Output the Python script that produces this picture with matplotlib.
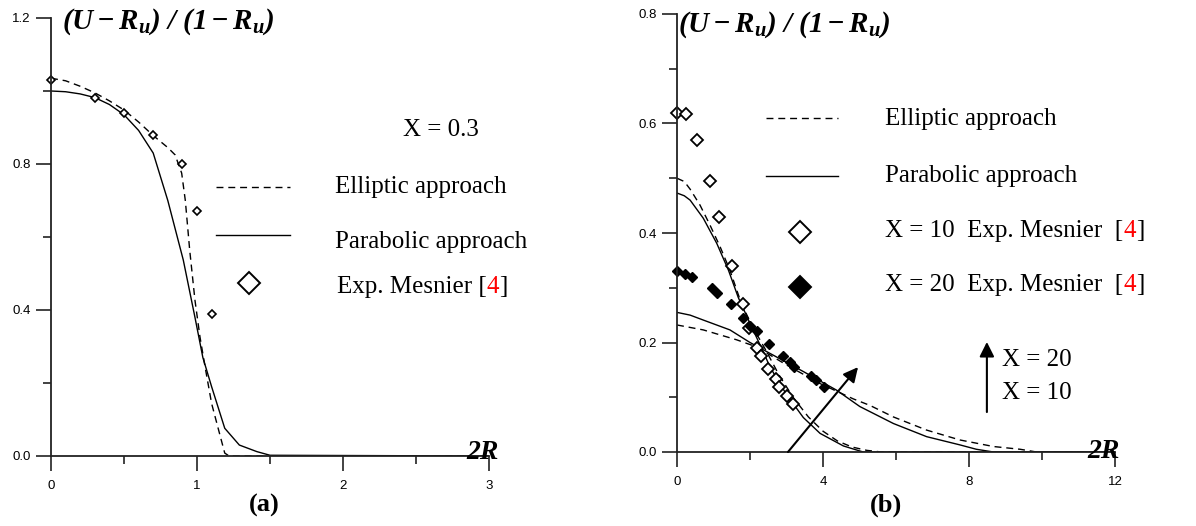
import matplotlib.pyplot as plt
from matplotlib.ticker import MultipleLocator, FormatStrFormatter

# ---- data ----
# (a) X = 0.3
r_a_exp = [0, 0.3, 0.5, 0.7, 0.9, 1.0, 1.1]
u_a_exp = [1.03, 0.98, 0.94, 0.88, 0.80, 0.67, 0.39]

r_a_ell = [0, 0.1, 0.2, 0.3, 0.4, 0.5, 0.6, 0.7, 0.8, 0.85, 0.895, 0.92, 0.95,
           0.986, 1.02, 1.055, 1.10, 1.16, 1.19, 1.22, 3.0]
u_a_ell = [1.035, 1.028, 1.013, 0.995, 0.973, 0.948, 0.915, 0.878, 0.845, 0.825,
           0.775, 0.70, 0.564, 0.427, 0.327, 0.245, 0.144, 0.053, 0.008, 0.0, 0.0]

r_a_par = [0, 0.1, 0.2, 0.3, 0.4, 0.5, 0.6, 0.7, 0.8, 0.906, 0.986, 1.04, 1.10,
           1.19, 1.29, 1.41, 1.5, 3.0]
u_a_par = [1.0, 0.998, 0.992, 0.982, 0.963, 0.935, 0.892, 0.83, 0.70, 0.537,
           0.38, 0.27, 0.19, 0.076, 0.03, 0.012, 0.002, 0.0]

# (b) X = 10 and X = 20
r_10_exp = [0, 0.25, 0.56, 0.90, 1.16, 1.52, 1.80, 1.98, 2.20, 2.31, 2.50, 2.71,
            2.80, 3.0, 3.19]
u_10_exp = [0.62, 0.618, 0.57, 0.495, 0.43, 0.34, 0.27, 0.226, 0.19, 0.175, 0.151,
            0.134, 0.119, 0.102, 0.088]

r_20_exp = [0, 0.22, 0.41, 0.96, 1.10, 1.47, 1.82, 2.0, 2.2, 2.52, 2.9, 3.1, 3.2,
            3.67, 3.81, 4.02]
u_20_exp = [0.33, 0.325, 0.32, 0.30, 0.29, 0.27, 0.245, 0.231, 0.221, 0.197, 0.175,
            0.164, 0.156, 0.138, 0.132, 0.119]

r_10_ell = [0, 0.2, 0.36, 0.63, 0.9, 1.18, 1.45, 1.77, 2.1, 2.4, 2.8, 3.2, 3.6,
            4.0, 4.4, 4.8, 5.2, 5.6, 12]
u_10_ell = [0.50, 0.494, 0.48, 0.451, 0.415, 0.375, 0.332, 0.27, 0.225, 0.19, 0.14,
            0.098, 0.064, 0.038, 0.02, 0.009, 0.003, 0.0, 0.0]

r_10_par = [0, 0.2, 0.36, 0.72, 1.09, 1.41, 1.68, 2.0, 2.37, 2.55, 3.0, 3.46,
            3.92, 4.56, 5.1, 12]
u_10_par = [0.473, 0.468, 0.46, 0.427, 0.381, 0.332, 0.282, 0.235, 0.182, 0.155,
            0.105, 0.063, 0.034, 0.011, 0.0, 0.0]

r_20_ell = [0, 0.72, 1.63, 2.18, 3.0, 3.92, 4.83, 5.29, 5.93, 6.84, 7.75, 8.67,
            9.4, 9.85, 12]
u_20_ell = [0.232, 0.223, 0.205, 0.192, 0.159, 0.125, 0.097, 0.085, 0.064, 0.04,
            0.022, 0.01, 0.005, 0.0, 0.0]

r_20_par = [0, 0.36, 0.72, 1.45, 2.0, 2.55, 3.46, 4.37, 5.01, 5.93, 6.84, 7.75,
            8.2, 8.67, 12]
u_20_par = [0.255, 0.25, 0.241, 0.223, 0.20, 0.18, 0.147, 0.113, 0.083, 0.052,
            0.028, 0.013, 0.005, 0.0, 0.0]

ylabel = r'$\mathbfit{(U-R_u)\ /\ (1-R_u)}$'

plt.rcParams['font.family'] = ['Liberation Serif', 'DejaVu Serif']
plt.rcParams['mathtext.fontset'] = 'custom'
plt.rcParams['mathtext.rm'] = 'Liberation Serif'
plt.rcParams['mathtext.it'] = 'Liberation Serif:italic'
plt.rcParams['mathtext.bf'] = 'Liberation Serif:bold'
plt.rcParams['mathtext.bfit'] = 'Liberation Serif:italic:bold'

DASH = (0, (5, 3.5))
TXT = 18

fig = plt.figure(figsize=(11.96, 5.26), dpi=100)
ax1 = fig.add_axes([51 / 1196, 70 / 526, 438 / 1196, 438 / 526])
ax2 = fig.add_axes([677 / 1196, 74 / 526, 438 / 1196, 438 / 526])


def style_axes(ax, xmaj, xmin, ymaj, ymin, xlim, ylim, xfmt, yfmt):
    ax.set_xlim(*xlim)
    ax.set_ylim(*ylim)
    for s in ['top', 'right']:
        ax.spines[s].set_visible(False)
    for s in ['left', 'bottom']:
        ax.spines[s].set_linewidth(1.3)
        ax.spines[s].set_color('#222222')
    ax.xaxis.set_major_locator(MultipleLocator(xmaj))
    ax.xaxis.set_minor_locator(MultipleLocator(xmin))
    ax.yaxis.set_major_locator(MultipleLocator(ymaj))
    ax.yaxis.set_minor_locator(MultipleLocator(ymin))
    ax.xaxis.set_major_formatter(FormatStrFormatter(xfmt))
    ax.yaxis.set_major_formatter(FormatStrFormatter(yfmt))
    ax.tick_params(which='major', length=10.5, width=1.2, color='#222222',
                   labelsize=9.5, labelfontfamily='Liberation Sans')
    ax.tick_params(which='minor', length=5.5, width=1.2, color='#222222')
    ax.tick_params(axis='x', pad=7)
    ax.tick_params(axis='y', pad=4)


def rich(ax, x, y, parts, size=TXT):
    prev = ax.text(x, y, parts[0][0], color=parts[0][1], transform=ax.transAxes,
                   ha='left', va='center', fontsize=size)
    for s, c in parts[1:]:
        prev = ax.annotate(s, xy=(1, 0), xycoords=prev, ha='left', va='bottom',
                           color=c, fontsize=size)


# ---------------- (a) ----------------
style_axes(ax1, 1, 0.5, 0.4, 0.2, (0, 3), (0, 1.2), '%d', '%.1f')
ax1.plot(r_a_ell, u_a_ell, color='k', lw=1.0, ls=DASH)
ax1.plot(r_a_par, u_a_par, color='k', lw=1.0)
ax1.plot(r_a_exp, u_a_exp, 'D', ms=4.5, mfc='white', mec='k', mew=1.2,
         clip_on=False)

ax1.text(0.025, 0.991, ylabel, transform=ax1.transAxes, ha='left', va='center',
         fontsize=21)
ax1.text(0.986, 0.007, '2R', transform=ax1.transAxes, ha='center', va='center',
         fontsize=20, fontweight='bold', fontstyle='italic')
ax1.text(0.486, -0.112, '(a)', transform=ax1.transAxes, ha='center', va='center',
         fontsize=19, fontweight='bold')

ax1.text(0.804, 0.744, 'X = 0.3', transform=ax1.transAxes, ha='left',
         va='center', fontsize=TXT)
ax1.plot([0.377, 0.546], [0.614, 0.614], transform=ax1.transAxes, color='k',
         lw=1.0, ls=DASH)
ax1.text(0.648, 0.614, 'Elliptic approach', transform=ax1.transAxes,
         ha='left', va='center', fontsize=TXT)
ax1.plot([0.377, 0.546], [0.505, 0.505], transform=ax1.transAxes, color='k',
         lw=1.0)
ax1.text(0.648, 0.489, 'Parabolic approach', transform=ax1.transAxes,
         ha='left', va='center', fontsize=TXT)
ax1.plot([0.452], [0.396], 'D', transform=ax1.transAxes, ms=11, mfc='white',
         mec='k', mew=1.4, clip_on=False)
rich(ax1, 0.653, 0.386, [('Exp. Mesnier [', 'k'), ('4', 'red'), (']', 'k')])

# ---------------- (b) ----------------
style_axes(ax2, 4, 2, 0.2, 0.1, (0, 12), (0, 0.8), '%d', '%.1f')
ax2.plot(r_10_ell, u_10_ell, color='k', lw=1.0, ls=DASH)
ax2.plot(r_10_par, u_10_par, color='k', lw=1.0)
ax2.plot(r_20_ell, u_20_ell, color='k', lw=1.0, ls=DASH)
ax2.plot(r_20_par, u_20_par, color='k', lw=1.0)
ax2.plot(r_10_exp, u_10_exp, 'D', ms=6, mfc='white', mec='k', mew=1.3,
         clip_on=False)
ax2.plot(r_20_exp, u_20_exp, 'D', ms=5.5, mfc='k', mec='k', mew=1.0,
         clip_on=False)

ax2.text(0.002, 0.975, ylabel, transform=ax2.transAxes, ha='left', va='center',
         fontsize=21)
ax2.text(0.973, 0.001, '2R', transform=ax2.transAxes, ha='center', va='center',
         fontsize=20, fontweight='bold', fontstyle='italic')
ax2.text(0.477, -0.121, '(b)', transform=ax2.transAxes, ha='center', va='center',
         fontsize=19, fontweight='bold')

ax2.plot([0.203, 0.368], [0.763, 0.763], transform=ax2.transAxes, color='k',
         lw=1.0, ls=DASH)
ax2.text(0.475, 0.760, 'Elliptic approach', transform=ax2.transAxes,
         ha='left', va='center', fontsize=TXT)
ax2.plot([0.203, 0.368], [0.630, 0.630], transform=ax2.transAxes, color='k',
         lw=1.0)
ax2.text(0.475, 0.630, 'Parabolic approach', transform=ax2.transAxes,
         ha='left', va='center', fontsize=TXT)
ax2.plot([0.281], [0.502], 'D', transform=ax2.transAxes, ms=11, mfc='white',
         mec='k', mew=1.4, clip_on=False)
rich(ax2, 0.475, 0.504, [('X = 10  Exp. Mesnier  [', 'k'), ('4', 'red'), (']', 'k')])
ax2.plot([0.281], [0.377], 'D', transform=ax2.transAxes, ms=11, mfc='k',
         mec='k', mew=1.4, clip_on=False)
rich(ax2, 0.475, 0.381, [('X = 20  Exp. Mesnier  [', 'k'), ('4', 'red'), (']', 'k')])

# arrows showing the increase of X
arrow_kw = dict(arrowstyle='-|>', mutation_scale=22, lw=1.5, color='k',
                shrinkA=0, shrinkB=0)
ax2.annotate('', xy=(4.96, 0.155), xytext=(3.04, 0.0), arrowprops=arrow_kw)
ax2.annotate('', xy=(8.49, 0.201), xytext=(8.49, 0.073), arrowprops=arrow_kw)
ax2.text(8.9, 0.168, 'X = 20', ha='left', va='center', fontsize=TXT)
ax2.text(8.9, 0.108, 'X = 10', ha='left', va='center', fontsize=TXT)

fig.savefig('out.png', dpi=100)
